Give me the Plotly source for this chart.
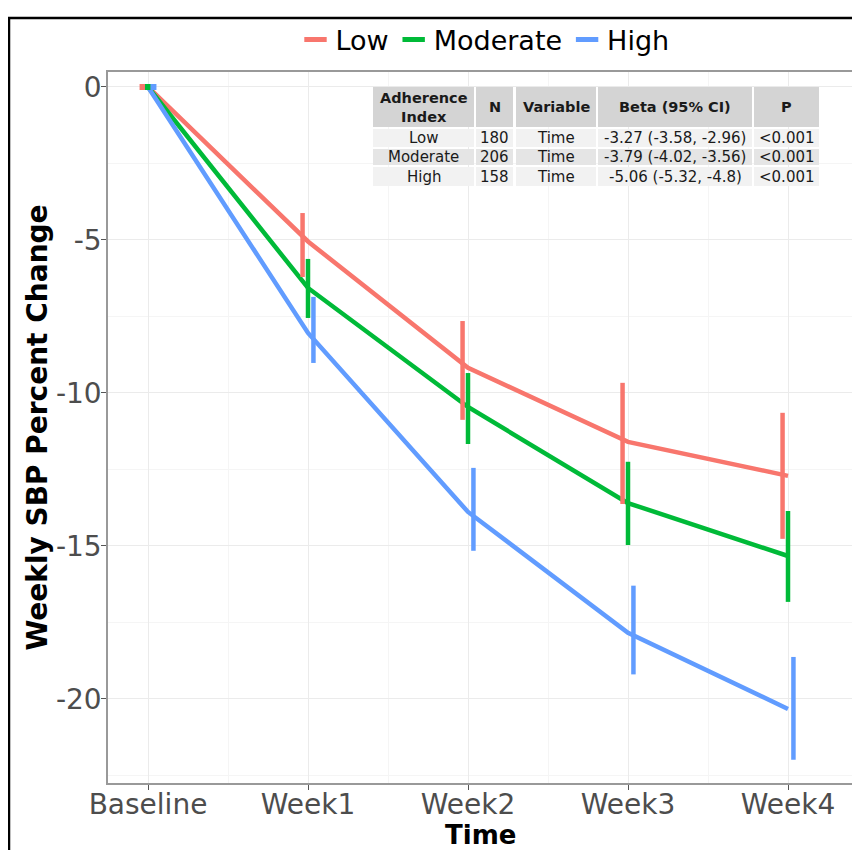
import plotly.graph_objects as go

time_labels = ["Baseline", "Week1", "Week2", "Week3", "Week4"]
groups = ["Low", "Moderate", "High"]
colors = ["#F8766D", "#00BA38", "#619CFF"]

low_mean = [0, -5.05, -9.18, -11.6, -12.71]
low_lo = [0, -6.21, -10.88, -13.63, -14.77]
low_hi = [0, -4.12, -7.65, -9.67, -10.65]

mod_mean = [0, -6.57, -10.46, -13.6, -15.33]
mod_lo = [0, -7.55, -11.67, -14.97, -16.83]
mod_hi = [0, -5.62, -9.35, -12.25, -13.86]

high_mean = [0, -8.04, -13.89, -17.84, -20.33]
high_lo = [0, -9.02, -15.16, -19.2, -21.99]
high_hi = [0, -6.86, -12.45, -16.3, -18.63]

y_ticks = [0, -5, -10, -15, -20]

tbl_header = ["Adherence<br>Index", "N", "Variable", "Beta (95% CI)", "P"]
tbl_index = ["Low", "Moderate", "High"]
tbl_n = ["180", "206", "158"]
tbl_var = ["Time", "Time", "Time"]
tbl_beta = ["-3.27 (-3.58, -2.96)", "-3.79 (-4.02, -3.56)", "-5.06 (-5.32, -4.8)"]
tbl_p = ["<0.001", "<0.001", "<0.001"]

means = [low_mean, mod_mean, high_mean]
los = [low_lo, mod_lo, high_lo]
his = [low_hi, mod_hi, high_hi]
dodge = [-0.034, 0.0, 0.034]

FONT = "DejaVu Sans"
W, H = 860, 850
OFF = 8  # page body margin offset
# plot area in screen pixels: x 108..852, y 72..783
SL, SR, ST, SB = 108, 852, 72, 783
ML = SL - OFF
MT = ST - OFF
MR = W - (SR - OFF)
MB = H - (SB - OFF)
PW, PH = SR - SL, SB - ST


def px_x(p):
    return (p - SL) / PW


def px_y(p):
    return (SB - p) / PH


fig = go.Figure()
xs = list(range(len(time_labels)))

for g, c, m in zip(groups, colors, means):
    fig.add_trace(go.Scatter(x=xs, y=m, mode="lines", name=g, showlegend=False,
                             line=dict(color=c, width=4.5)))

for g, c, lo, hi, d in zip(groups, colors, los, his, dodge):
    ex, ey = [], []
    for i in xs:
        ex += [i + d, i + d, None]
        ey += [lo[i], hi[i], None]
    fig.add_trace(go.Scatter(x=ex, y=ey, mode="lines", showlegend=False,
                             line=dict(color=c, width=4.5), hoverinfo="skip"))
    fig.add_trace(go.Scatter(x=[xs[0] + d], y=[lo[0]], mode="markers", showlegend=False,
                             marker=dict(symbol="square", size=6, color=c, line=dict(width=0)),
                             hoverinfo="skip"))

# legend entries (short thick line keys like ggplot)
for g, c in zip(groups, colors):
    fig.add_trace(go.Scatter(x=[None], y=[None], mode="markers", name=g,
                             marker=dict(symbol="line-ew", size=16, color=c,
                                         line=dict(color=c, width=5))))

# table drawn with shapes + annotations (screen pixel geometry)
col_edges = [(373, 474), (476, 513), (516, 596), (598, 752), (754, 819)]
row_edges = [(87, 127), (129, 147), (149, 165), (167, 186)]
row_fills = ["#d4d4d4", "#f2f2f2", "#e5e5e5", "#f2f2f2"]
columns = [tbl_index, tbl_n, tbl_var, tbl_beta, tbl_p]
shapes = []
annotations = []
for r, (y0, y1) in enumerate(row_edges):
    for cidx, (x0, x1) in enumerate(col_edges):
        shapes.append(dict(type="rect", xref="paper", yref="paper",
                           x0=px_x(x0), x1=px_x(x1), y0=px_y(y1), y1=px_y(y0),
                           fillcolor=row_fills[r], line=dict(width=0), layer="above"))
        if r == 0:
            txt = "<b>" + tbl_header[cidx] + "</b>"
            fsize = 14.5
        else:
            txt = columns[cidx][r - 1]
            fsize = 15
        annotations.append(dict(xref="paper", yref="paper",
                                x=px_x((x0 + x1) / 2), y=px_y((y0 + y1) / 2),
                                text=txt, showarrow=False, xanchor="center", yanchor="middle",
                                font=dict(family=FONT, size=fsize, color="#1a1a1a"),
                                align="center"))

# x-axis title placed as annotation (ggplot puts it tight under the tick labels)
annotations.append(dict(xref="paper", yref="paper", x=px_x(480), y=px_y(835),
                        text="<b>Time</b>", showarrow=False, xanchor="center", yanchor="middle",
                        borderpad=0,
                        font=dict(family=FONT, size=26, color="black")))

shapes.append(dict(type="rect", xref="paper", yref="paper",
                   x0=px_x(9), x1=px_x(W + 40), y0=px_y(H + 40), y1=px_y(18),
                   line=dict(color="black", width=2.5), fillcolor="rgba(0,0,0,0)", layer="above"))

fig.update_layout(
    width=W, height=H,
    margin=dict(l=ML, r=MR, t=MT, b=MB, autoexpand=False),
    paper_bgcolor="white", plot_bgcolor="white",
    font=dict(family=FONT, color="black"),
    showlegend=True,
    legend=dict(orientation="h", xref="container", yref="container",
                x=(485 - OFF) / W, xanchor="center", y=1 - (40 - OFF) / H, yanchor="middle",
                bgcolor="rgba(0,0,0,0)", itemwidth=30,
                font=dict(size=27, color="black"), tracegroupgap=0),
    xaxis=dict(range=[-0.25, 4.4], tickmode="array", tickvals=xs, ticktext=time_labels,
               automargin=False, ticklabelstandoff=-9,
               showgrid=True, gridcolor="#ebebeb", gridwidth=1.2,
               minor=dict(tickmode="array", tickvals=[i + 0.5 for i in range(-1, 5)],
                          showgrid=True, gridcolor="#f5f5f5", gridwidth=1),
               ticks="outside", ticklen=5, tickcolor="#555", tickwidth=1,
               tickfont=dict(size=28, color="#4d4d4d"),
               showline=True, linecolor="#999", linewidth=1.5, mirror=True, zeroline=False),
    yaxis=dict(range=[-22.75, 0.49], tickmode="array", tickvals=y_ticks,
               ticktext=[str(v) for v in y_ticks], automargin=False, ticklabelstandoff=-6,
               showgrid=True, gridcolor="#ebebeb", gridwidth=1.2,
               minor=dict(tickmode="array", tickvals=[-2.5, -7.5, -12.5, -17.5, -22.5],
                          showgrid=True, gridcolor="#f5f5f5", gridwidth=1),
               ticks="outside", ticklen=5, tickcolor="#555", tickwidth=1,
               tickfont=dict(size=28, color="#4d4d4d"),
               title=dict(text="<b>Weekly SBP Percent Change</b>", font=dict(size=28, color="black"),
                          standoff=0),
               showline=True, linecolor="#999", linewidth=1.5, mirror=True, zeroline=False),
    shapes=shapes,
    annotations=annotations,
)

fig.write_html("out.html")
